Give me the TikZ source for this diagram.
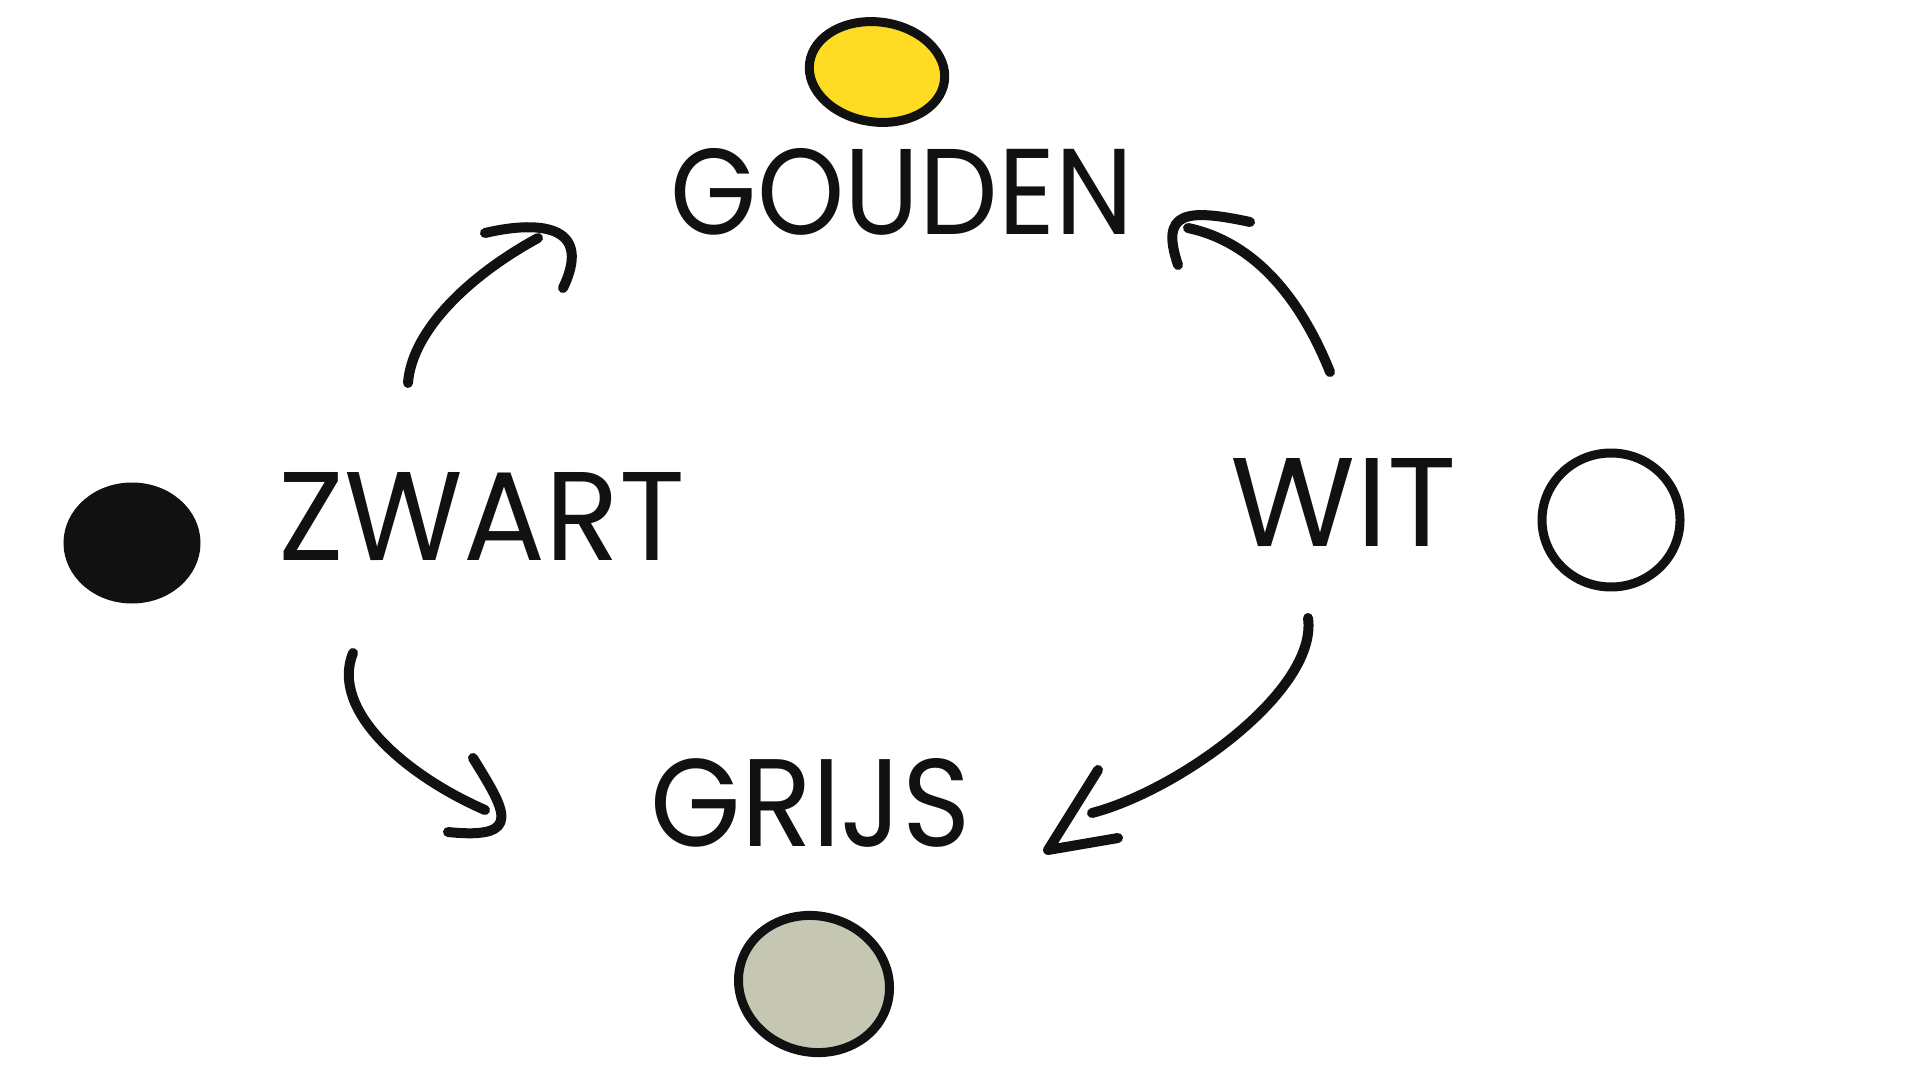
\documentclass[tikz,border=0pt]{standalone}
\usepackage{fontspec}
\setmainfont{Poppins}
\usetikzlibrary{shapes.geometric}
\definecolor{gold}{HTML}{FDDC23}
\definecolor{greyc}{HTML}{C5C7B2}
\definecolor{ink}{HTML}{111111}
\begin{document}
\begin{tikzpicture}[x=0.5pt,y=-0.5pt,
  stroke/.style={draw=ink, line width=5pt, line cap=round, line join=round},
  blob/.style={ellipse, draw=ink, line width=4.5pt, inner sep=0pt},
  word/.style={inner sep=0pt, text=ink}]
\path[use as bounding box, fill=white] (0,0) rectangle (1920,1080);

% colour blobs
\node[blob, fill=gold, minimum width=68pt, minimum height=50pt, rotate=-8] (gold) at (877,72) {};
\node[blob, fill=ink, minimum width=64pt, minimum height=56pt] (black) at (132,543) {};
\node[blob, fill=white, minimum width=69pt, minimum height=67pt] (white) at (1611,520) {};
\node[blob, fill=greyc, minimum width=76pt, minimum height=68pt, rotate=-15] (grey) at (814,984) {};

% words
\node[word] (gouden) at (902,192) {\resizebox{231pt}{43pt}{GOUDEN}};
\node[word] (zwart) at (482,517) {\resizebox{203pt}{44pt}{ZWART}};
\node[word] (wit) at (1344,503) {\resizebox{113pt}{44pt}{WIT}};
\node[word] (grijs) at (811,803) {\resizebox{160pt}{44pt}{GRIJS}};

% connector end points
\coordinate (a1s) at (408,383); \coordinate (a1e) at (538,238);
\coordinate (a2s) at (1330,372); \coordinate (a2e) at (1188,228);
\coordinate (a3s) at (1308,618); \coordinate (a3e) at (1092,813);
\coordinate (a4s) at (353,653); \coordinate (a4e) at (485,810);

% ZWART -> GOUDEN
\draw[stroke] (a1s) .. controls (412,330) and (470,275) .. (a1e);
\draw[stroke] (485,233) .. controls (545,219) and (592,228) .. (563,288);
% WIT -> GOUDEN
\draw[stroke] (a2s) .. controls (1295,285) and (1245,240) .. (a2e);
\draw[stroke] (1250,222) .. controls (1185,208) and (1160,212) .. (1178,265);
% WIT -> GRIJS
\draw[stroke] (a3s) .. controls (1318,690) and (1180,790) .. (a3e);
\draw[stroke] (1098,770) -- (1048,850) -- (1118,838);
% ZWART -> GRIJS
\draw[stroke] (a4s) .. controls (330,710) and (405,775) .. (a4e);
\draw[stroke] (473,758) .. controls (505,810) and (525,840) .. (448,832);
\end{tikzpicture}
\end{document}
